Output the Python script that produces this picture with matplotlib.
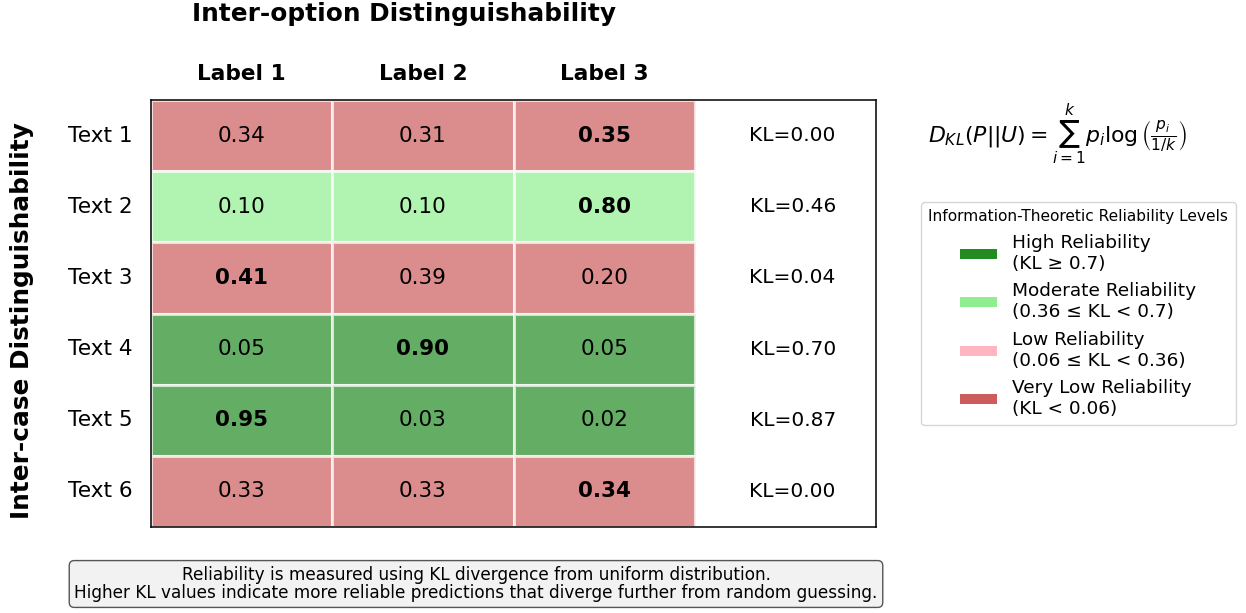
import matplotlib.pyplot as plt
from matplotlib.patches import Rectangle, Patch

# 数据
texts = ['Text 1', 'Text 2', 'Text 3', 'Text 4', 'Text 5', 'Text 6']
labels = ['Label 1', 'Label 2', 'Label 3']
probs = [
    [0.34, 0.31, 0.35],
    [0.10, 0.10, 0.80],
    [0.41, 0.39, 0.20],
    [0.05, 0.90, 0.05],
    [0.95, 0.03, 0.02],
    [0.33, 0.33, 0.34],
]
kl_values = [0.00, 0.46, 0.04, 0.70, 0.87, 0.00]

level_names = ['High Reliability\n(KL ≥ 0.7)',
               'Moderate Reliability\n(0.36 ≤ KL < 0.7)',
               'Low Reliability\n(0.06 ≤ KL < 0.36)',
               'Very Low Reliability\n(KL < 0.06)']
level_colors = ['forestgreen', 'lightgreen', 'lightpink', 'indianred']


def level_color(kl):
    if kl >= 0.7:
        return level_colors[0]
    elif kl >= 0.36:
        return level_colors[1]
    elif kl >= 0.06:
        return level_colors[2]
    return level_colors[3]


W, H = 1246, 613
fig = plt.figure(figsize=(W / 100, H / 100), dpi=100)
ax = fig.add_axes([151 / W, 1 - 527 / H, 725 / W, 427 / H])

n_rows = len(texts)
n_cols = len(labels)
ax.set_xlim(0, n_cols + 1)
ax.set_ylim(n_rows, 0)

for i, row in enumerate(probs):
    color = level_color(kl_values[i])
    best = max(row)
    for j, p in enumerate(row):
        ax.add_patch(Rectangle((j, i), 1, 1, facecolor=color, alpha=0.7,
                               edgecolor='white', linewidth=2.2))
        ax.text(j + 0.5, i + 0.5, f'{p:.2f}', ha='center', va='center',
                fontsize=15.5, fontweight='bold' if p == best else 'normal')
    # KL列
    ax.text(n_cols + 0.54, i + 0.5, f'KL={kl_values[i]:.2f}', ha='center',
            va='center', fontsize=14.5)
    ax.text(-0.1, i + 0.5, texts[i], ha='right', va='center', fontsize=15.6)

for j, lab in enumerate(labels):
    ax.text(j + 0.5, -0.37, lab, ha='center', va='center', fontsize=15.6,
            fontweight='bold')

ax.set_xticks([])
ax.set_yticks([])
for s in ax.spines.values():
    s.set_linewidth(1.1)

fig.text(404 / W, 1 - 14 / H, 'Inter-option Distinguishability', ha='center',
         va='center', fontsize=17.8, fontweight='bold')
fig.text(22 / W, 1 - 321 / H, 'Inter-case Distinguishability', ha='center',
         va='center', rotation=90, fontsize=17.8, fontweight='bold')

# 公式
fig.text(928 / W, 1 - 135 / H,
         r'$D_{KL}(P||U) = \sum_{i=1}^{k} p_i \log\left(\frac{p_i}{1/k}\right)$',
         ha='left', va='center', fontsize=15.8)

# 图例
handles = [Patch(facecolor=c, edgecolor='none') for c in level_colors]
fig.legend(handles, level_names, loc='upper left',
           bbox_to_anchor=(921 / W, 1 - 202 / H), borderaxespad=0,
           fontsize=13.3, title='Information-Theoretic Reliability Levels',
           title_fontsize=11.1, handlelength=2.0, handleheight=0.45,
           labelspacing=0.52, borderpad=0.4)

# 底部说明
fig.text(476 / W, 1 - 584 / H,
         'Reliability is measured using KL divergence from uniform distribution.\n'
         'Higher KL values indicate more reliable predictions that diverge further from random guessing.',
         ha='center', va='center', fontsize=12.2, linespacing=1.05,
         bbox=dict(boxstyle='round', facecolor='#f2f2f2', edgecolor='#555555'))

fig.savefig('out.png', dpi=100)
